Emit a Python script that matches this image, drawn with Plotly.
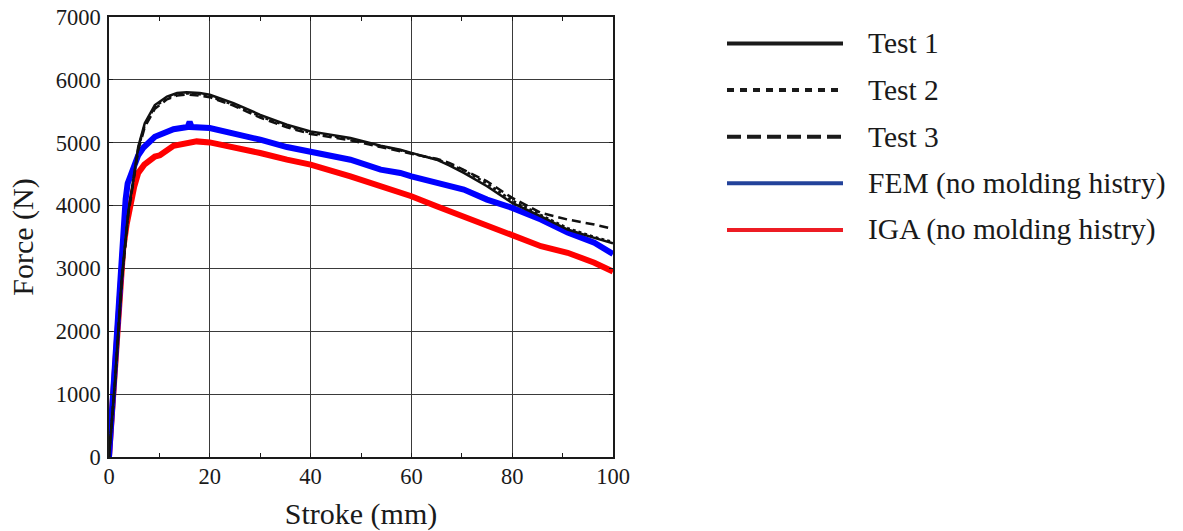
import plotly.graph_objects as go

# ---------------- data ----------------
test1_x = [0, 1.2, 2.5, 3.8, 4.8, 5.8, 7.1, 9.1, 11.5, 13.5, 15.4, 18, 20, 24.7, 30, 35.3, 40,
           47.9, 53.9, 57.8, 60, 63, 65, 67.5, 70.4, 75, 80, 85.7, 91, 96.3, 100]
test1_y = [0, 1225, 2815, 3880, 4400, 4935, 5310, 5600, 5735, 5790, 5804, 5790, 5762, 5630, 5444, 5286, 5180,
           5074, 4952, 4889, 4838, 4775, 4730, 4640, 4519, 4307, 4042, 3830, 3619, 3487, 3400]

test2_x = [0, 1.2, 2.5, 3.8, 4.8, 5.8, 7.1, 9.1, 11.5, 13.5, 15.4, 18, 20, 24.7, 30, 35.3, 40,
           47.9, 53.9, 57.8, 60, 63, 65, 67.5, 70.4, 75, 80, 85.7, 91, 96.3, 100]
test2_y = [0, 1200, 2790, 3860, 4380, 4910, 5280, 5575, 5715, 5770, 5785, 5770, 5740, 5605, 5420, 5265, 5160,
           5060, 4945, 4880, 4830, 4770, 4735, 4660, 4560, 4350, 4080, 3850, 3640, 3500, 3420]

test3_x = [0, 1.2, 2.5, 3.8, 4.8, 5.8, 7.1, 9.1, 11.5, 13.5, 15.4, 18, 20, 24.7, 30, 35.3, 40,
           47.9, 53.9, 57.8, 60, 63, 65, 67.5, 70.4, 75, 80, 85.7, 91, 96.3, 100]
test3_y = [0, 1180, 2760, 3840, 4360, 4880, 5250, 5540, 5690, 5750, 5765, 5750, 5725, 5590, 5400, 5245, 5140,
           5040, 4930, 4870, 4825, 4775, 4745, 4680, 4570, 4386, 4122, 3884, 3778, 3698, 3630]

fem_x = [0, 1.0, 1.5, 2.2, 2.8, 3.3, 3.7, 4.8, 5.8, 6.8, 9.1, 12.8, 15.6, 16.0, 16.4, 20, 24.7, 30, 35.3,
         40, 47.9, 53.9, 57.8, 60, 65, 70.4, 75, 80, 85.7, 91, 96.3, 100]
fem_y = [0, 1350, 2020, 3000, 3700, 4100, 4350, 4624, 4800, 4920, 5095, 5215, 5250, 5330, 5250, 5233, 5153, 5048, 4931,
         4862, 4730, 4571, 4519, 4465, 4365, 4254, 4095, 3963, 3778, 3571, 3408, 3230]

iga_x = [0, 1.2, 2.0, 2.8, 3.5, 4.2, 5.0, 5.8, 7.0, 9.1, 10.1, 12.8, 15, 17.4, 20, 24.7, 30, 35.3,
         40, 47.9, 53.9, 57.8, 60, 65, 70.4, 75, 80, 85.7, 91, 96.3, 100]
iga_y = [0, 1300, 2300, 3300, 3700, 4000, 4300, 4520, 4650, 4780, 4800, 4950, 4990, 5021, 5005, 4931, 4836, 4730,
         4651, 4465, 4307, 4201, 4148, 3989, 3830, 3672, 3540, 3354, 3249, 3090, 2950]

series_names = ["Test 1", "Test 2", "Test 3", "FEM (no molding histry)", "IGA (no molding histry)"]

x_ticks = [0, 20, 40, 60, 80, 100]
y_ticks = [0, 1000, 2000, 3000, 4000, 5000, 6000, 7000]

# ---------------- figure ----------------
FONT = "Liberation Serif, Times New Roman, serif"
fig = go.Figure()

# order: red, blue, then black lines on top
fig.add_trace(go.Scatter(x=iga_x, y=iga_y, mode="lines", name=series_names[4],
                         line=dict(color="#ff0000", width=6), showlegend=False))
fig.add_trace(go.Scatter(x=fem_x, y=fem_y, mode="lines", name=series_names[3],
                         line=dict(color="#0000ff", width=6), showlegend=False))
fig.add_trace(go.Scatter(x=test3_x, y=test3_y, mode="lines", name=series_names[2],
                         line=dict(color="#111111", width=2.5, dash="9px,5px"), showlegend=False))
fig.add_trace(go.Scatter(x=test2_x, y=test2_y, mode="lines", name=series_names[1],
                         line=dict(color="#111111", width=2.5, dash="3px,3px"), showlegend=False))
fig.add_trace(go.Scatter(x=test1_x, y=test1_y, mode="lines", name=series_names[0],
                         line=dict(color="#111111", width=2.5), showlegend=False))

# ---------------- manual legend (long line samples as in reference) ----------------
L, T, PW, PH = 109, 17, 504, 440
def px_x(p):
    return (p - L) / PW
def px_y(p):
    return (T + PH - p) / PH

leg_styles = [
    dict(color="#1a1a1a", width=4, dash="solid"),
    dict(color="#1a1a1a", width=4, dash="7px,6px"),
    dict(color="#1a1a1a", width=4, dash="14px,6px"),
    dict(color="#23429a", width=4, dash="solid"),
    dict(color="#ed1c24", width=4, dash="solid"),
]
row0, row_gap = 43.5, 46.6
for i, name in enumerate(series_names):
    yy = px_y(row0 + i * row_gap)
    fig.add_shape(type="line", xref="paper", yref="paper",
                  x0=px_x(727), x1=px_x(843), y0=yy, y1=yy,
                  line=leg_styles[i])
    fig.add_annotation(xref="paper", yref="paper", x=px_x(866), y=yy,
                       text=name, showarrow=False, xanchor="left", yanchor="middle",
                       font=dict(family=FONT, size=29.5, color="#1a1a1a"))

axis_common = dict(
    showline=True, linecolor="#1a1a1a", linewidth=1.5, mirror="ticks",
    showgrid=True, gridcolor="#3a3a3a", gridwidth=1,
    ticks="inside", ticklen=4, tickcolor="#1a1a1a", tickwidth=1,
    zeroline=False, automargin=False,
    tickfont=dict(family=FONT, size=22.5, color="#1a1a1a"),
)

fig.update_xaxes(range=[0, 100], tickvals=x_ticks, ticktext=[str(v) for v in x_ticks],
                 minor=dict(dtick=10, ticks="inside", ticklen=4, tickcolor="#1a1a1a", showgrid=False),
                 title=dict(text="Stroke (mm)", font=dict(family=FONT, size=30, color="#1a1a1a"), standoff=19),
                 ticklabelstandoff=-2,
                 **axis_common)
fig.update_yaxes(range=[0, 7000], tickvals=y_ticks, ticktext=[str(v) for v in y_ticks],
                 title=dict(text="Force (N)", font=dict(family=FONT, size=30, color="#1a1a1a"), standoff=13),
                 ticklabelstandoff=2,
                 **axis_common)

fig.update_layout(
    width=1183, height=531,
    margin=dict(l=109, r=570, t=17, b=74, autoexpand=False),
    paper_bgcolor="white", plot_bgcolor="white",
    showlegend=False,
    font=dict(family=FONT, color="#1a1a1a"),
)

fig.write_html("out.html", config={"displayModeBar": False},
               post_script="document.body.style.margin='0';document.body.style.overflow='hidden';")
